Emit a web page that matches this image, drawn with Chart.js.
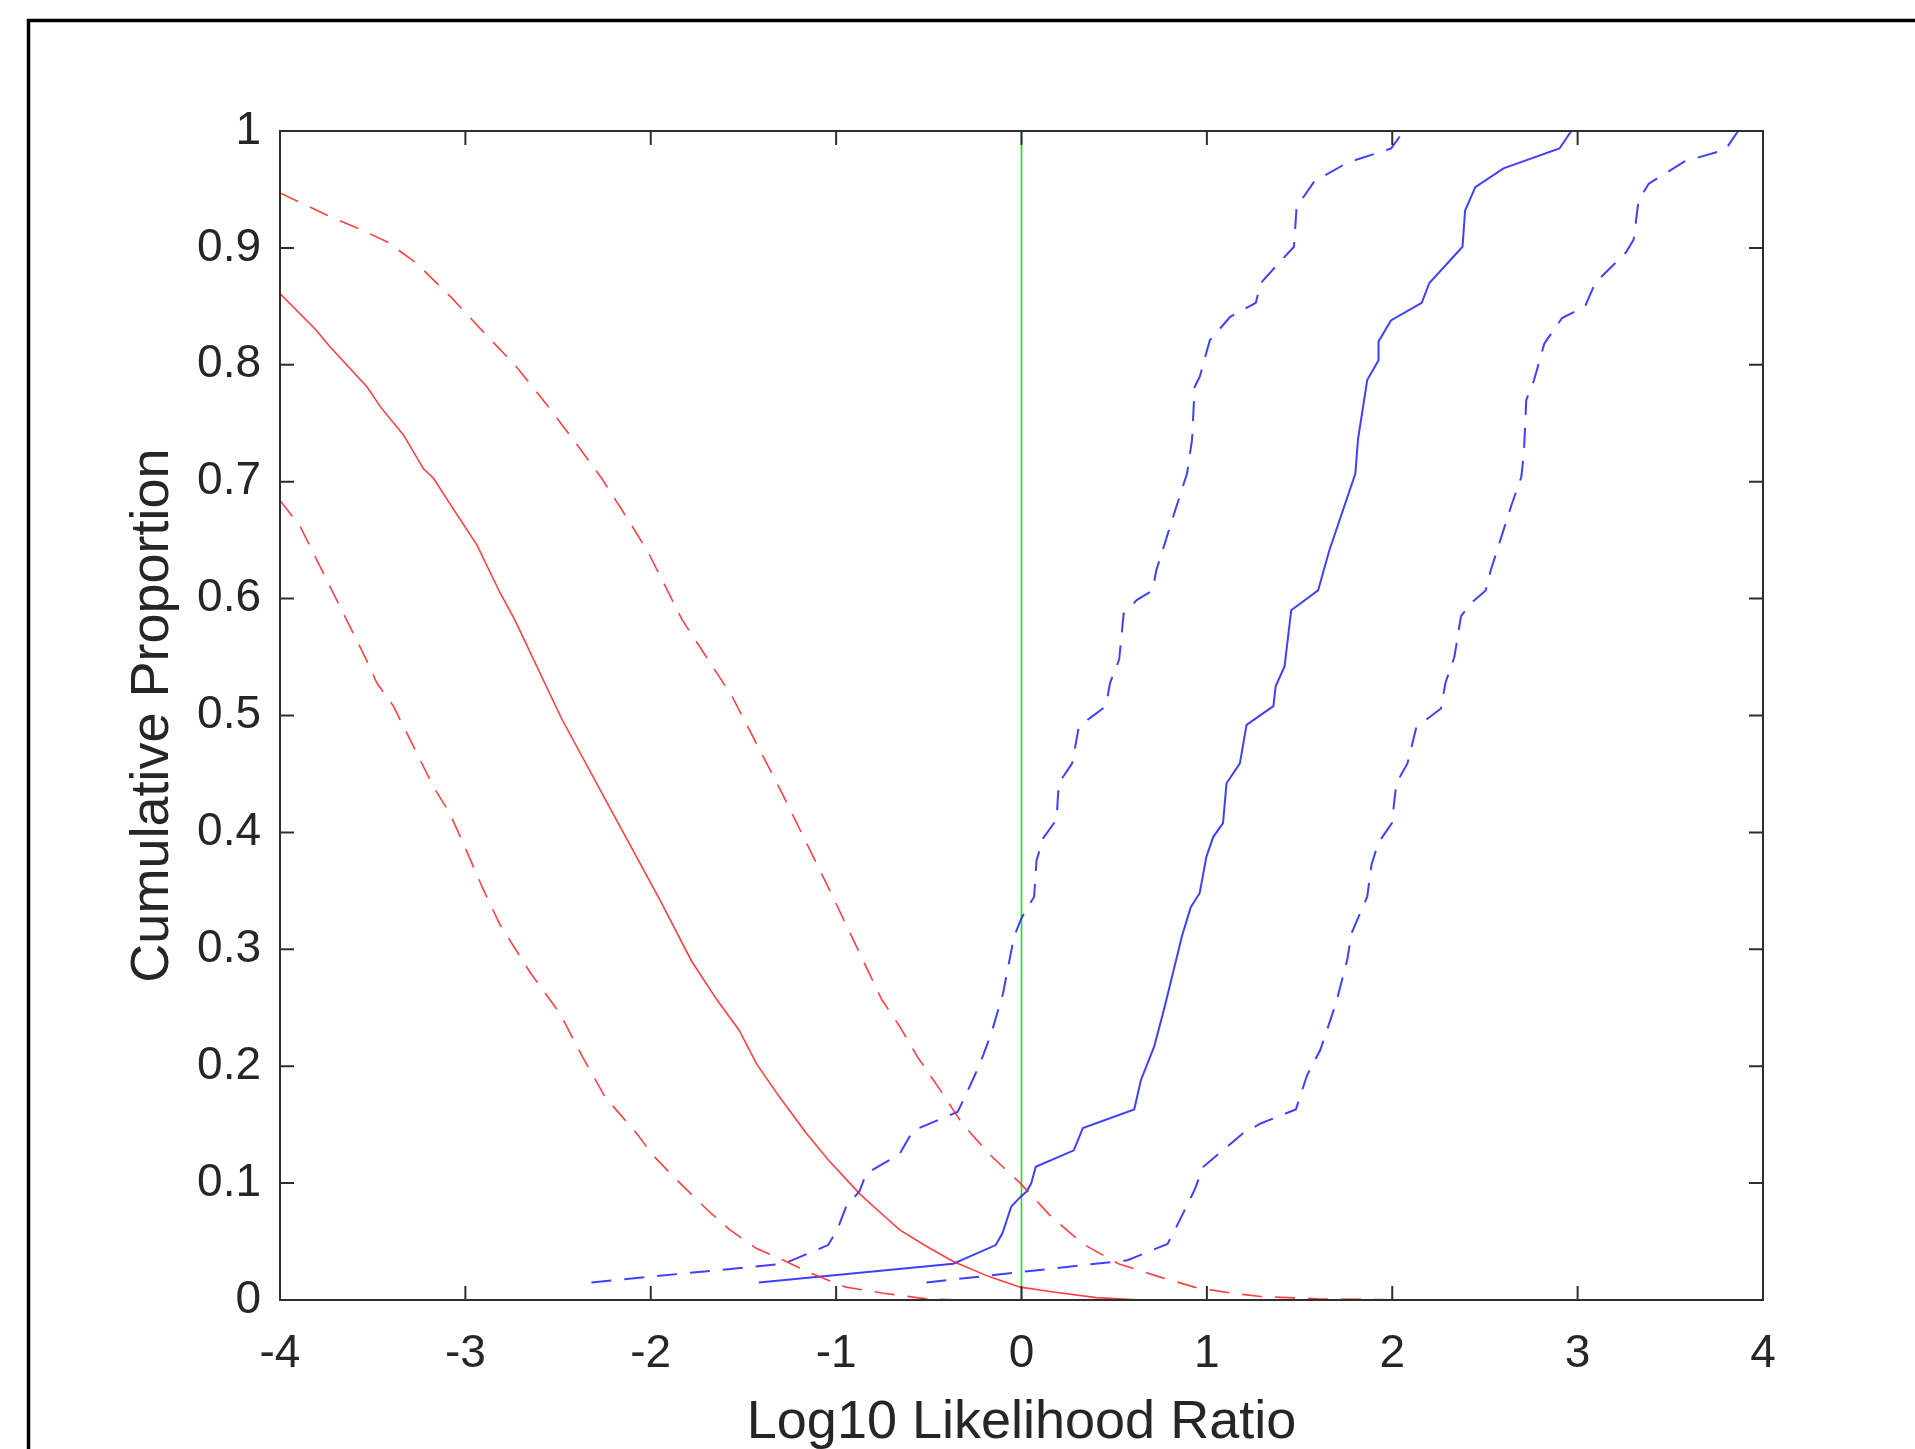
<!DOCTYPE html>
<html><head><meta charset="utf-8">
<script src="https://cdn.jsdelivr.net/npm/chart.js@4.4.1/dist/chart.umd.min.js"></script>
<style>html,body{margin:0;padding:0;background:#fff;overflow:hidden}canvas{display:block}</style>
</head><body>
<canvas id="c" width="1915" height="1449"></canvas>
<script>
// ---- tick labels ----
const xTickValues = [-4,-3,-2,-1,0,1,2,3,4];
const xTickLabels = ['-4','-3','-2','-1','0','1','2','3','4'];
const yTickValues = [0,0.1,0.2,0.3,0.4,0.5,0.6,0.7,0.8,0.9,1];
const yTickLabels = ['0','0.1','0.2','0.3','0.4','0.5','0.6','0.7','0.8','0.9','1'];
const xTitle = 'Log10 Likelihood Ratio';
const yTitle = 'Cumulative Proportion';

// ---- red: solid (middle) ----
const redMidX = [-4,-3.807,-3.734,-3.53,-3.458,-3.334,-3.226,-3.172,-3.046,-2.938,-2.813,-2.734,-2.48,-2.21,-1.95,-1.78,-1.644,-1.524,-1.429,-1.307,-1.163,-1.043,-0.874,-0.777,-0.657,-0.513,-0.368,-0.175,-0.007,0.162,0.403,0.644,1.3];
const redMidY = [0.861,0.830,0.816,0.781,0.764,0.740,0.711,0.703,0.672,0.646,0.605,0.582,0.497,0.418,0.342,0.290,0.257,0.231,0.202,0.174,0.143,0.120,0.091,0.077,0.060,0.046,0.033,0.020,0.011,0.007,0.002,0,0];
// ---- red: dashed upper ----
const redHiX = [-4,-3.746,-3.554,-3.421,-3.264,-3.072,-2.879,-2.734,-2.566,-2.385,-2.265,-2.108,-2.012,-1.831,-1.56,-1.29,-1.03,-0.754,-0.657,-0.561,-0.44,-0.32,-0.175,-0.007,0.162,0.331,0.523,0.74,0.933,1.126,1.29,1.6,2.07];
const redHiY = [0.947,0.928,0.915,0.905,0.887,0.857,0.824,0.800,0.767,0.729,0.703,0.664,0.639,0.582,0.516,0.433,0.349,0.257,0.234,0.208,0.180,0.151,0.125,0.100,0.071,0.048,0.031,0.020,0.011,0.006,0.003,0.001,0];
// ---- red: dashed lower ----
const redLoX = [-4,-3.892,-3.748,-3.676,-3.532,-3.478,-3.388,-3.244,-3.172,-3.083,-2.993,-2.903,-2.813,-2.65,-2.489,-2.368,-2.248,-2.079,-1.983,-1.862,-1.694,-1.573,-1.429,-1.284,-1.139,-0.947,-0.754,-0.513,-0.32,0.9];
const redLoY = [0.684,0.662,0.616,0.593,0.547,0.528,0.508,0.462,0.439,0.416,0.384,0.351,0.321,0.280,0.245,0.208,0.174,0.143,0.123,0.103,0.077,0.060,0.044,0.034,0.023,0.011,0.006,0.001,0,0];

// ---- blue: solid (middle) ----
const blueMidX = [-1.417,-0.368,-0.139,-0.103,-0.055,-0.007,0.029,0.053,0.077,0.282,0.331,0.608,0.644,0.716,0.768,0.816,0.865,0.913,0.961,0.997,1.034,1.087,1.106,1.178,1.214,1.359,1.371,1.419,1.455,1.600,1.66,1.801,1.815,1.865,1.926,1.926,1.993,2.159,2.200,2.379,2.393,2.448,2.600,2.902,2.966];
const blueMidY = [0.015,0.031,0.047,0.057,0.080,0.088,0.093,0.100,0.114,0.128,0.147,0.163,0.188,0.217,0.248,0.279,0.311,0.336,0.348,0.379,0.396,0.408,0.442,0.459,0.492,0.508,0.525,0.542,0.590,0.607,0.641,0.707,0.736,0.787,0.804,0.820,0.838,0.853,0.870,0.901,0.932,0.952,0.968,0.985,1.0];
// ---- blue: dashed left ----
const blueLeftX = [-2.320,-1.284,-1.043,-0.994,-0.946,-0.874,-0.838,-0.657,-0.585,-0.344,-0.296,-0.224,-0.163,-0.10,-0.040,0.001,0.068,0.081,0.117,0.189,0.201,0.273,0.309,0.371,0.455,0.478,0.527,0.551,0.623,0.707,0.727,0.824,0.893,0.920,0.934,0.962,1.016,1.126,1.264,1.291,1.388,1.470,1.484,1.580,1.759,1.993,2.062];
const blueLeftY = [0.015,0.031,0.047,0.060,0.080,0.093,0.108,0.125,0.145,0.161,0.177,0.202,0.228,0.262,0.311,0.327,0.345,0.376,0.395,0.411,0.442,0.459,0.490,0.498,0.508,0.528,0.548,0.587,0.599,0.607,0.624,0.673,0.707,0.736,0.781,0.790,0.821,0.841,0.853,0.870,0.887,0.901,0.935,0.957,0.973,0.985,1.0];
// ---- blue: dashed right ----
const blueRightX = [-0.513,0.572,0.788,0.837,0.933,0.981,1.198,1.29,1.48,1.54,1.612,1.697,1.757,1.781,1.865,1.889,1.925,1.998,2.022,2.082,2.130,2.263,2.287,2.335,2.371,2.431,2.504,2.531,2.641,2.696,2.710,2.723,2.765,2.820,2.916,3.040,3.095,3.260,3.302,3.329,3.384,3.577,3.797,3.866];
const blueRightY = [0.015,0.034,0.048,0.063,0.094,0.114,0.143,0.151,0.163,0.192,0.214,0.254,0.291,0.314,0.345,0.373,0.391,0.408,0.442,0.459,0.490,0.506,0.528,0.550,0.585,0.597,0.607,0.624,0.679,0.704,0.724,0.770,0.787,0.818,0.840,0.850,0.870,0.896,0.907,0.941,0.955,0.974,0.984,1.0];
// ---- green reference line ----
const greenX = [0,0];
const greenY = [0,1];

const pts = (xs, ys) => xs.map((x, i) => ({x, y: ys[i]}));
const RED = 'rgba(255,30,30,0.85)';
const BLUE = 'rgba(30,30,255,0.85)';
const DASH = [20, 13];

const framePlugin = {
  id: 'frame',
  beforeDraw(chart) {
    const ctx = chart.ctx;
    ctx.save(); ctx.fillStyle = '#fff'; ctx.fillRect(0, 0, chart.width, chart.height); ctx.restore();
  },
  afterDatasetsDraw(chart) {
    const {ctx, chartArea: a, scales: {x, y}} = chart;
    ctx.save();
    ctx.strokeStyle = '#2e2e2e';
    ctx.lineWidth = 2;
    ctx.strokeRect(a.left, a.top, a.right - a.left, a.bottom - a.top);
    ctx.beginPath();
    const L = 14;
    xTickValues.forEach(v => {
      const p = x.getPixelForValue(v);
      ctx.moveTo(p, a.bottom); ctx.lineTo(p, a.bottom - L);
      ctx.moveTo(p, a.top); ctx.lineTo(p, a.top + L);
    });
    yTickValues.forEach(v => {
      const p = y.getPixelForValue(v);
      ctx.moveTo(a.left, p); ctx.lineTo(a.left + L, p);
      ctx.moveTo(a.right, p); ctx.lineTo(a.right - L, p);
    });
    ctx.stroke();
    // outer figure frame (runs off right and bottom)
    ctx.strokeStyle = '#000';
    ctx.lineWidth = 3.5;
    ctx.beginPath();
    ctx.moveTo(28.5, chart.height + 5);
    ctx.lineTo(28.5, 20.5);
    ctx.lineTo(chart.width + 5, 20.5);
    ctx.stroke();
    ctx.restore();
  }
};

const tickFont = {family: '"Liberation Sans", Arial, sans-serif', size: 46};
const titleFont = {family: '"Liberation Sans", Arial, sans-serif', size: 54, lineHeight: 0.8};
const TXT = '#262626';

new Chart(document.getElementById('c'), {
  type: 'line',
  data: {
    datasets: [
      {data: pts(redMidX, redMidY), borderColor: RED, borderWidth: 1.6},
      {data: pts(redHiX, redHiY), borderColor: RED, borderWidth: 1.6, borderDash: DASH},
      {data: pts(redLoX, redLoY), borderColor: RED, borderWidth: 1.6, borderDash: DASH},
      {data: pts(blueMidX, blueMidY), borderColor: BLUE, borderWidth: 2},
      {data: pts(blueLeftX, blueLeftY), borderColor: BLUE, borderWidth: 2, borderDash: DASH},
      {data: pts(blueRightX, blueRightY), borderColor: BLUE, borderWidth: 2, borderDash: DASH},
      {data: pts(greenX, greenY), borderColor: '#00ee00', borderWidth: 1.6}
    ]
  },
  options: {
    responsive: false,
    animation: false,
    devicePixelRatio: 1,
    elements: {point: {radius: 0}, line: {tension: 0, fill: false}},
    layout: {padding: {left: 0, top: 131, right: 152, bottom: 0}},
    plugins: {legend: {display: false}, tooltip: {enabled: false}},
    scales: {
      x: {
        type: 'linear', min: -4, max: 4,
        grid: {display: false}, border: {display: false},
        afterBuildTicks: s => { s.ticks = xTickValues.map(v => ({value: v})); },
        afterFit: s => { s.height = 149; },
        ticks: {font: tickFont, color: TXT, padding: 19, maxRotation: 0, autoSkip: false,
          callback: v => xTickLabels[xTickValues.indexOf(v)]},
        title: {display: true, text: xTitle, font: titleFont, color: TXT, padding: {top: 0, bottom: 4}}
      },
      y: {
        type: 'linear', min: 0, max: 1,
        grid: {display: false}, border: {display: false},
        afterBuildTicks: s => { s.ticks = yTickValues.map(v => ({value: v})); },
        afterFit: s => { s.width = 280; },
        ticks: {font: tickFont, color: TXT, padding: 11, autoSkip: false,
          callback: v => yTickLabels[yTickValues.indexOf(v)]},
        title: {display: true, text: yTitle, font: titleFont, color: TXT, padding: {top: 132, bottom: 0}}
      }
    }
  },
  plugins: [framePlugin]
});
</script>
</body></html>
